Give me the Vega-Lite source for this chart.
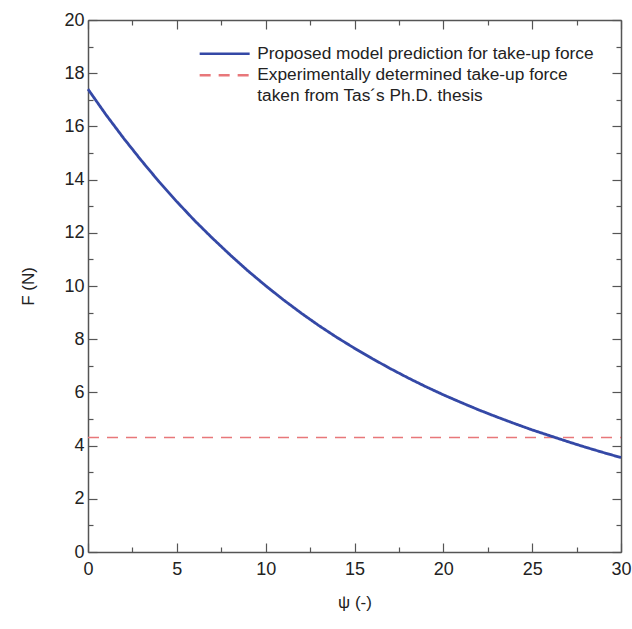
{
  "$schema": "https://vega.github.io/schema/vega-lite/v6.json",
  "width": 533,
  "height": 532,
  "autosize": {"type": "none"},
  "padding": {"left": 88, "top": 20, "right": 11, "bottom": 77},
  "background": "white",
  "config": {
    "view": {"stroke": null},
    "font": "Liberation Sans",
    "style": {"guide-label": {"lineHeight": 21}},
    "axis": {"grid": false, "domainColor": "#555555", "tickColor": "#555555", "labelColor": "#222222", "titleColor": "#222222", "labelFontSize": 18, "titleFontSize": 17, "titleFontWeight": "normal", "domainWidth": 1.5, "tickWidth": 1.2}
  },
  "datasets": {
    "model": [
      {"psi": 0, "F": 17.40}, {"psi": 1, "F": 16.45}, {"psi": 2, "F": 15.56}, {"psi": 3, "F": 14.72},
      {"psi": 4, "F": 13.92}, {"psi": 5, "F": 13.17}, {"psi": 6, "F": 12.46}, {"psi": 7, "F": 11.80},
      {"psi": 8, "F": 11.17}, {"psi": 9, "F": 10.57}, {"psi": 10, "F": 10.01}, {"psi": 11, "F": 9.48},
      {"psi": 12, "F": 8.98}, {"psi": 13, "F": 8.51}, {"psi": 14, "F": 8.07}, {"psi": 15, "F": 7.66},
      {"psi": 16, "F": 7.27}, {"psi": 17, "F": 6.90}, {"psi": 18, "F": 6.55}, {"psi": 19, "F": 6.22},
      {"psi": 20, "F": 5.91}, {"psi": 21, "F": 5.62}, {"psi": 22, "F": 5.34}, {"psi": 23, "F": 5.08},
      {"psi": 24, "F": 4.83}, {"psi": 25, "F": 4.59}, {"psi": 26, "F": 4.37}, {"psi": 27, "F": 4.15},
      {"psi": 28, "F": 3.94}, {"psi": 29, "F": 3.74}, {"psi": 30, "F": 3.55}
    ],
    "exp": [
      {"psi": 0, "F": 4.3}, {"psi": 30, "F": 4.3}
    ]
  },
  "encoding": {
    "x": {"field": "psi", "type": "quantitative", "scale": {"domain": [0, 30], "nice": false, "zero": false}},
    "y": {"field": "F", "type": "quantitative", "scale": {"domain": [0, 20], "nice": false}}
  },
  "layer": [
    {
      "data": {"name": "exp"},
      "transform": [{"calculate": "'Experimentally determined take-up force|taken from Tas´s Ph.D. thesis'", "as": "series"}],
      "mark": {"type": "line", "strokeWidth": 1.5},
      "encoding": {
        "x": {"field": "psi", "type": "quantitative", "axis": {"orient": "top", "values": [0,2.5,5,7.5,10,12.5,15,17.5,20,22.5,25,27.5,30], "labels": false, "title": null, "tickSize": {"condition": {"test": "datum.value % 5 === 0", "value": -9}, "value": -5}}},
        "y": {"field": "F", "type": "quantitative", "axis": {"orient": "right", "values": [0,1,2,3,4,5,6,7,8,9,10,11,12,13,14,15,16,17,18,19,20], "labels": false, "title": null, "tickSize": {"condition": {"test": "datum.value % 2 === 0", "value": -9}, "value": -5}}},
        "color": {"field": "series", "type": "nominal"},
        "strokeDash": {"field": "series", "type": "nominal"}
      }
    },
    {
      "data": {"name": "model"},
      "transform": [{"calculate": "'Proposed model prediction for take-up force'", "as": "series"}],
      "mark": {"type": "line", "strokeWidth": 2.8},
      "encoding": {
        "x": {"field": "psi", "type": "quantitative", "axis": {"orient": "bottom", "values": [0,2.5,5,7.5,10,12.5,15,17.5,20,22.5,25,27.5,30], "labelExpr": "datum.value % 5 === 0 ? datum.label : ''", "labelFlush": false, "title": "ψ (-)", "titlePadding": 16, "labelPadding": 17, "tickSize": {"condition": {"test": "datum.value % 5 === 0", "value": -9}, "value": -5}}},
        "y": {"field": "F", "type": "quantitative", "axis": {"orient": "left", "values": [0,1,2,3,4,5,6,7,8,9,10,11,12,13,14,15,16,17,18,19,20], "labelExpr": "datum.value % 2 === 0 ? datum.label : ''", "labelFlush": false, "title": "F (N)", "titlePadding": 26, "labelPadding": 13, "tickSize": {"condition": {"test": "datum.value % 2 === 0", "value": -9}, "value": -5}}},
        "color": {"field": "series", "type": "nominal", "scale": {"domain": ["Proposed model prediction for take-up force", "Experimentally determined take-up force|taken from Tas´s Ph.D. thesis"], "range": ["#3448a6", "#e8777a"]}, "legend": {"orient": "none", "legendX": 128, "legendY": 25, "title": null, "symbolType": "M-5,0H5", "symbolSize": 100, "symbolStrokeWidth": 2.5, "labelOffset": 24, "labelFontSize": 17.3, "labelColor": "#222222", "labelExpr": "split(datum.label, '|')", "labelLimit": 500, "rowPadding": 3.5}},
        "strokeDash": {"field": "series", "type": "nominal", "scale": {"domain": ["Proposed model prediction for take-up force", "Experimentally determined take-up force|taken from Tas´s Ph.D. thesis"], "range": [[1, 0], [11, 8]]}, "legend": {"orient": "none", "legendX": 128, "legendY": 25, "title": null, "symbolType": "M-5,0H5", "symbolSize": 100, "symbolStrokeWidth": 2.5, "labelOffset": 24, "labelFontSize": 17.3, "labelExpr": "split(datum.label, '|')", "labelLimit": 500, "rowPadding": 3.5}}
      }
    }
  ],
  "resolve": {"axis": {"x": "independent", "y": "independent"}}
}
